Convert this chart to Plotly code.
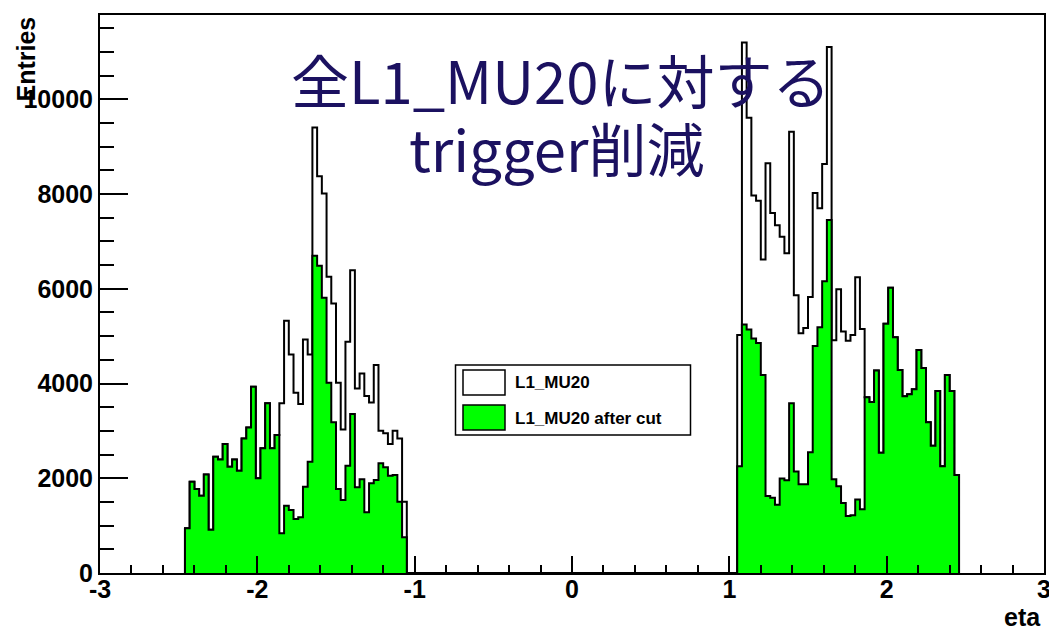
import plotly.graph_objects as go

# ---------------- data ----------------
bin_width = 0.03
left_start = -2.46
right_start = 1.05

# left region (eta from -2.46 to -1.05), 47 bins
all_left = [943, 1927, 1772, 1632, 2082, 914, 2454, 2398, 2722, 2243,
            2398, 2159, 2842, 3074, 3931, 1998, 2631, 3581, 2631, 2912,
            3581, 5324, 4614, 3805, 3566, 4931, 4614, 9404, 8377, 8012,
            6252, 5691, 4016, 3032, 4881, 6393, 3897, 4214, 3735, 3602,
            4389, 3003, 2948, 2722, 3003, 2842, 1504]
cut_left = [943, 1927, 1772, 1632, 2082, 914, 2454, 2398, 2722, 2243,
            2398, 2159, 2842, 3074, 3931, 1998, 2631, 3581, 2631, 2912,
            838, 1420, 1329, 1139, 1175, 1821, 2348, 6695, 6484, 5809,
            4016, 3180, 1772, 1540, 2264, 3355, 1808, 1977, 1281, 1893,
            1962, 2315, 2230, 2053, 2068, 1504, 753]

# right region (eta from 1.05 to 2.46), 47 bins
all_right = [5027, 11198, 9609, 7969, 7858, 6616, 8649, 7599, 7340, 7096,
             6749, 9314, 5862, 5064, 5174, 5825, 8020, 7702, 8634, 11103,
             4916, 5988, 5100, 4901, 5027, 6246, 5153, 3711, 3608, 4273,
             2536, 5263, 6024, 4975, 4288, 3733, 3771, 3880, 4710, 4326,
             3180, 2684, 3844, 2255, 4178, 3844, 2070]
cut_right = [2255, 5248, 5138, 4952, 4857, 4178, 1627, 1589, 1441, 1996,
             1960, 3585, 2144, 1872, 1872, 2551, 4790, 5189, 6157, 7450,
             1981, 1834, 1479, 1205, 1220, 1553, 1346, 3711, 3608, 4273,
             2536, 5263, 6024, 4975, 4288, 3733, 3771, 3880, 4710, 4326,
             3180, 2684, 3844, 2255, 4178, 3844, 2070]

x_tickvals = [-3, -2, -1, 0, 1, 2, 3]
x_ticktext = ["-3", "-2", "-1", "0", "1", "2", "3"]
y_tickvals = [0, 2000, 4000, 6000, 8000, 10000]
y_ticktext = ["0", "2000", "4000", "6000", "8000", "10000"]

series_names = ["L1_MU20", "L1_MU20 after cut"]
title_line1 = "全L1_MU20に対する"
title_line2 = "trigger削減"
x_title = "eta"
y_title = "Entries"

# ---------------- helpers ----------------
def step_points(start, values):
    edges = [round(start + i * bin_width, 6) for i in range(len(values) + 1)]
    xs = [edges[0]] + edges[:-1] + [edges[-1]]
    ys = [0] + list(values) + [0]
    return xs, ys

def hist_xy(regions):
    xs, ys = [], []
    for start, vals in regions:
        a, b = step_points(start, vals)
        xs += a
        ys += b
    return xs, ys

xa, ya = hist_xy([(left_start, all_left), (right_start, all_right)])
xc, yc = hist_xy([(left_start, cut_left), (right_start, cut_right)])

GREEN = "#00ff00"
TXT = "#1b1160"
AXF = dict(family="Liberation Sans, Arial, sans-serif", size=25, color="black", weight="bold")

fig = go.Figure()
fig.add_trace(go.Scatter(x=xa, y=ya, mode="lines", line=dict(shape="hv", color="black", width=2),
                         fill="tozeroy", fillcolor="white", name=series_names[0], showlegend=False))
fig.add_trace(go.Scatter(x=xc, y=yc, mode="lines", line=dict(shape="hv", color="black", width=2),
                         fill="tozeroy", fillcolor=GREEN, name=series_names[1], showlegend=False))

W, H = 1049, 632
L, R, T, B = 100, 5, 15, 59
pw, ph = W - L - R, H - T - B

def px(x):
    return (x - L) / pw

def py(y):
    return (H - B - y) / ph

fig.update_layout(
    width=W, height=H,
    margin=dict(l=L, r=R, t=T, b=B, autoexpand=False),
    paper_bgcolor="white", plot_bgcolor="white",
    showlegend=False,
    xaxis=dict(range=[-3, 3], tickvals=x_tickvals, ticktext=x_ticktext,
               ticks="inside", ticklen=17, tickwidth=1.5, tickcolor="black",
               minor=dict(dtick=0.2, ticks="inside", ticklen=8, tickwidth=1.5, tickcolor="black"),
               showline=True, linewidth=2, linecolor="black", mirror=True,
               showgrid=False, zeroline=False, tickfont=AXF, ticklabelstandoff=-7,
               ticklabeloverflow="allow", automargin=False),
    yaxis=dict(range=[0, 11780], tickvals=y_tickvals, ticktext=y_ticktext,
               ticks="inside", ticklen=28, tickwidth=1.5, tickcolor="black",
               minor=dict(dtick=500, ticks="inside", ticklen=14, tickwidth=1.5, tickcolor="black"),
               showline=True, linewidth=2, linecolor="black", mirror=True,
               showgrid=False, zeroline=False, tickfont=AXF, automargin=False),
)

# axis titles
fig.add_annotation(x=px(1043), y=py(616.5), xref="paper", yref="paper", text=x_title,
                   showarrow=False, xanchor="right", yanchor="middle", font=AXF)
fig.add_annotation(x=px(25), y=py(15), xref="paper", yref="paper", text=y_title, textangle=-90,
                   showarrow=False, xanchor="center", yanchor="top", font=AXF)

# big title text
TF = dict(family="Noto Sans CJK JP", size=58, color=TXT)
fig.add_annotation(x=px(560), y=py(79), xref="paper", yref="paper", text=title_line1,
                   showarrow=False, xanchor="center", yanchor="middle", font=TF)
fig.add_annotation(x=px(557), y=py(147), xref="paper", yref="paper", text=title_line2,
                   showarrow=False, xanchor="center", yanchor="middle", font=TF)

# legend box
fig.add_shape(type="rect", xref="paper", yref="paper", x0=px(455.5), x1=px(690.5), y0=py(435), y1=py(365),
              line=dict(color="black", width=1.5), fillcolor="white")
fig.add_shape(type="rect", xref="paper", yref="paper", x0=px(463), x1=px(505), y0=py(395), y1=py(370),
              line=dict(color="black", width=1.5), fillcolor="white")
fig.add_shape(type="rect", xref="paper", yref="paper", x0=px(463), x1=px(505), y0=py(430), y1=py(405),
              line=dict(color="black", width=1.5), fillcolor=GREEN)
LF = dict(family="Liberation Sans, Arial, sans-serif", size=17, color="black", weight="bold")
fig.add_annotation(x=px(513), y=py(382.5), xref="paper", yref="paper", text=series_names[0],
                   showarrow=False, xanchor="left", yanchor="middle", font=LF)
fig.add_annotation(x=px(513), y=py(418), xref="paper", yref="paper", text=series_names[1],
                   showarrow=False, xanchor="left", yanchor="middle", font=LF)

fig.write_html("out.html")
